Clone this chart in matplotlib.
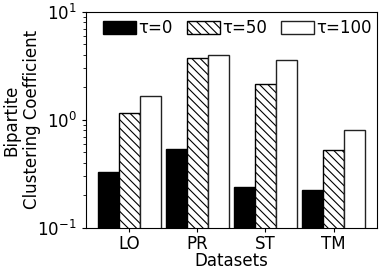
import numpy as np
import matplotlib
matplotlib.use('Agg')
import matplotlib.pyplot as plt

plt.rcParams['hatch.linewidth'] = 0.8

datasets = ['LO', 'PR', 'ST', 'TM']
tau_labels = ['τ=0', 'τ=50', 'τ=100']
tau0 = [0.33, 0.535, 0.24, 0.225]
tau50 = [1.17, 3.75, 2.15, 0.53]
tau100 = [1.68, 3.95, 3.6, 0.81]

x = np.arange(len(datasets))
w = 0.31

fig = plt.figure(figsize=(3.82, 2.74), dpi=100)
ax = fig.add_axes([0.225, 0.168, 0.762, 0.789])

ax.bar(x - w, tau0, w, color='black', edgecolor='black', label=tau_labels[0])
ax.bar(x, tau50, w, color='white', edgecolor='black', hatch='\\\\\\\\', label=tau_labels[1])
ax.bar(x + w, tau100, w, color='white', edgecolor='#222222', label=tau_labels[2])

ax.set_yscale('log')
ax.set_ylim(0.1, 10)
ax.set_xlim(-0.64, 3.64)
ax.set_xticks(x)
ax.set_xticklabels(datasets)
ax.tick_params(labelsize=12, length=3)
ax.tick_params(axis='x', pad=2)
ax.tick_params(axis='y', which='minor', length=2)
ax.set_xlabel('Datasets', fontsize=12, labelpad=-1)
ax.set_ylabel('Bipartite\nClustering Coefficient', fontsize=12, labelpad=-2.5)

ax.legend(ncol=3, loc='upper center', frameon=False, fontsize=12,
          handlelength=2.0, handleheight=0.8, handletextpad=0.12,
          columnspacing=0.85, borderaxespad=0.05, bbox_to_anchor=(0.52, 1.0))

fig.savefig('out.png', dpi=100)
